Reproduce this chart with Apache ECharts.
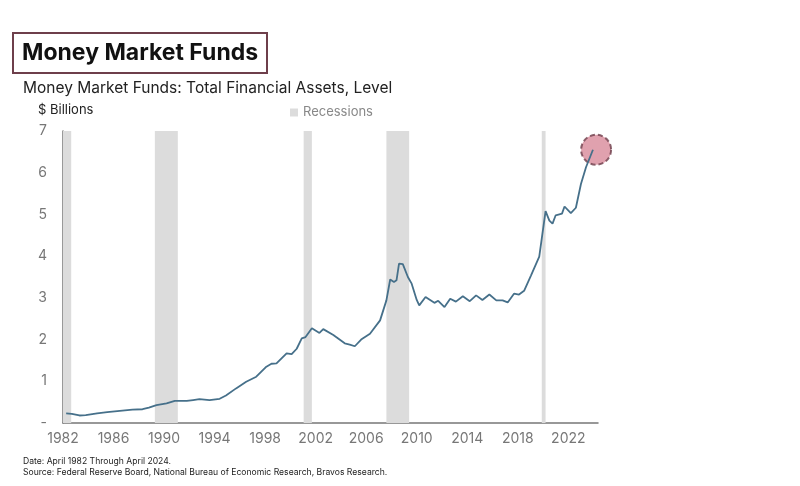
<!DOCTYPE html>
<html>
<head>
<meta charset="utf-8">
<script src="https://cdn.jsdelivr.net/npm/echarts@6/dist/echarts.min.js"></script>
<style>
  html, body { margin: 0; padding: 0; background: #fff; }
  #main { width: 800px; height: 486px; }
</style>
</head>
<body>
<div id="main"></div>
<script>
// money market fund assets, $ trillions
var years = [1982.25, 1982.7, 1983.3, 1983.8, 1984.7, 1985.5, 1986.5, 1987.5, 1988.3, 1988.8,
  1989.4, 1990.2, 1990.85, 1991.8, 1992.3, 1992.8, 1993.6, 1994.4, 1994.9, 1995.7,
  1996.5, 1997.3, 1998.1, 1998.5, 1998.9, 1999.7, 2000.1, 2000.5, 2000.9, 2001.2,
  2001.7, 2002.3, 2002.6, 2003.4, 2004.3, 2004.7, 2005.1, 2005.6, 2006.3, 2007.1,
  2007.6, 2007.9, 2008.2, 2008.4, 2008.6, 2008.9, 2009.3, 2009.6, 2010.0, 2010.2,
  2010.35, 2010.7, 2011.0, 2011.4, 2011.7, 2012.2, 2012.65, 2013.1, 2013.65, 2014.2,
  2014.7, 2015.2, 2015.75, 2016.3, 2016.8, 2017.2, 2017.7, 2018.1, 2018.5, 2019.05,
  2019.7, 2020.2, 2020.5, 2020.75, 2021.0, 2021.5, 2021.7, 2022.2, 2022.6, 2023.0,
  2023.4, 2023.95];
var assets = [0.23, 0.22, 0.18, 0.19, 0.23, 0.26, 0.29, 0.32, 0.33, 0.37,
  0.43, 0.47, 0.53, 0.53, 0.55, 0.57, 0.55, 0.58, 0.66, 0.83,
  0.99, 1.11, 1.35, 1.42, 1.43, 1.67, 1.65, 1.78, 2.03, 2.06,
  2.27, 2.16, 2.25, 2.11, 1.91, 1.88, 1.84, 2.0, 2.14, 2.46,
  2.94, 3.44, 3.38, 3.42, 3.82, 3.81, 3.5, 3.34, 2.95, 2.82,
  2.80, 3.02, 2.96, 2.88, 2.93, 2.78, 2.98, 2.91, 3.04, 2.92,
  3.06, 2.95, 3.08, 2.94, 2.94, 2.89, 3.10, 3.08, 3.17, 3.54,
  3.99, 5.08, 4.85, 4.78, 4.98, 5.02, 5.19, 5.03, 5.16, 5.73,
  6.13, 6.55];

// recession shading (start, end) as drawn
var recessionStart = [1982.0, 1989.27, 2001.05, 2007.6, 2019.9];
var recessionEnd = [1982.65, 1991.09, 2001.7, 2009.4, 2020.2];

var highlightYear = [2024.2];
var highlightValue = [6.55];

var yTicks = ['-', '1', '2', '3', '4', '5', '6', '7'];

var chart = echarts.init(document.getElementById('main'));

var font = 'Inter, "Noto Sans", sans-serif';

var lineData = years.map(function (y, i) { return [y, assets[i]]; });
var areas = recessionStart.map(function (s, i) {
  return [{ xAxis: s }, { xAxis: recessionEnd[i] }];
});

var option = {
  backgroundColor: '#fff',
  animation: false,
  textStyle: { fontFamily: font },
  title: [
    {
      text: 'Money Market Funds',
      left: 13, top: 33,
      padding: [9, 9, 8, 9],
      borderColor: '#6e3f4b',
      borderWidth: 2,
      textStyle: { fontSize: 23, fontWeight: 'bold', color: '#111', fontFamily: font }
    },
    {
      text: 'Money Market Funds: Total Financial Assets, Level',
      left: 23, top: 80, padding: 0,
      textStyle: { fontSize: 15.5, fontWeight: 'normal', color: '#222', fontFamily: font }
    },
    {
      text: '$ Billions',
      left: 38, top: 104, padding: 0,
      textStyle: { fontSize: 13, fontWeight: 'normal', color: '#222', fontFamily: font }
    },
    {
      text: 'Date: April 1982 Through April 2024.\nSource: Federal Reserve Board, National Bureau of Economic Research, Bravos Research.',
      left: 23, top: 456, padding: 0,
      textStyle: { fontSize: 8.6, lineHeight: 11, fontWeight: 'normal', color: '#222', fontFamily: font }
    }
  ],
  legend: {
    left: 285, top: 101,
    itemWidth: 8, itemHeight: 8, itemGap: 6,
    textStyle: { fontSize: 13, color: '#888', fontFamily: font },
    data: [{ name: 'Recessions', icon: 'rect' }]
  },
  grid: { left: 63, right: 202, top: 131, bottom: 63 },
  xAxis: {
    type: 'value',
    min: 1982, max: 2024.35, interval: 4,
    splitLine: { show: false },
    axisTick: { show: false },
    axisLine: { lineStyle: { color: '#777', width: 1.5 } },
    axisLabel: {
      color: '#777', fontSize: 14, margin: 9,
      showMaxLabel: false,
      formatter: function (v) { return Math.abs(v - Math.round(v)) < 1e-6 ? String(Math.round(v)) : ''; }
    }
  },
  yAxis: {
    type: 'value',
    min: 0, max: 7, interval: 1,
    splitLine: { show: false },
    axisTick: { show: false },
    axisLine: { show: true, lineStyle: { color: '#777', width: 1.5 } },
    axisLabel: {
      color: '#777', fontSize: 14, margin: 16,
      formatter: function (v) { return yTicks[Math.round(v)]; }
    }
  },
  series: [
    {
      name: 'Recessions',
      type: 'line',
      data: [],
      itemStyle: { color: '#dcdcdc' },
      lineStyle: { color: '#dcdcdc' }
    },
    {
      name: 'Highlight',
      type: 'scatter',
      z: 1,
      symbolSize: 30,
      data: highlightYear.map(function (y, i) { return [y, highlightValue[i]]; }),
      itemStyle: {
        color: '#d8899a',
        borderColor: '#6e3f4b',
        borderWidth: 2,
        borderType: [5, 3]
      }
    },
    {
      name: 'Assets',
      type: 'line',
      z: 3,
      data: lineData,
      showSymbol: false,
      smooth: false,
      lineStyle: { color: '#46708a', width: 1.8 },
      markArea: {
        silent: true,
        itemStyle: { color: '#dcdcdc' },
        data: areas
      }
    }
  ]
};

chart.setOption(option);
</script>
</body>
</html>
